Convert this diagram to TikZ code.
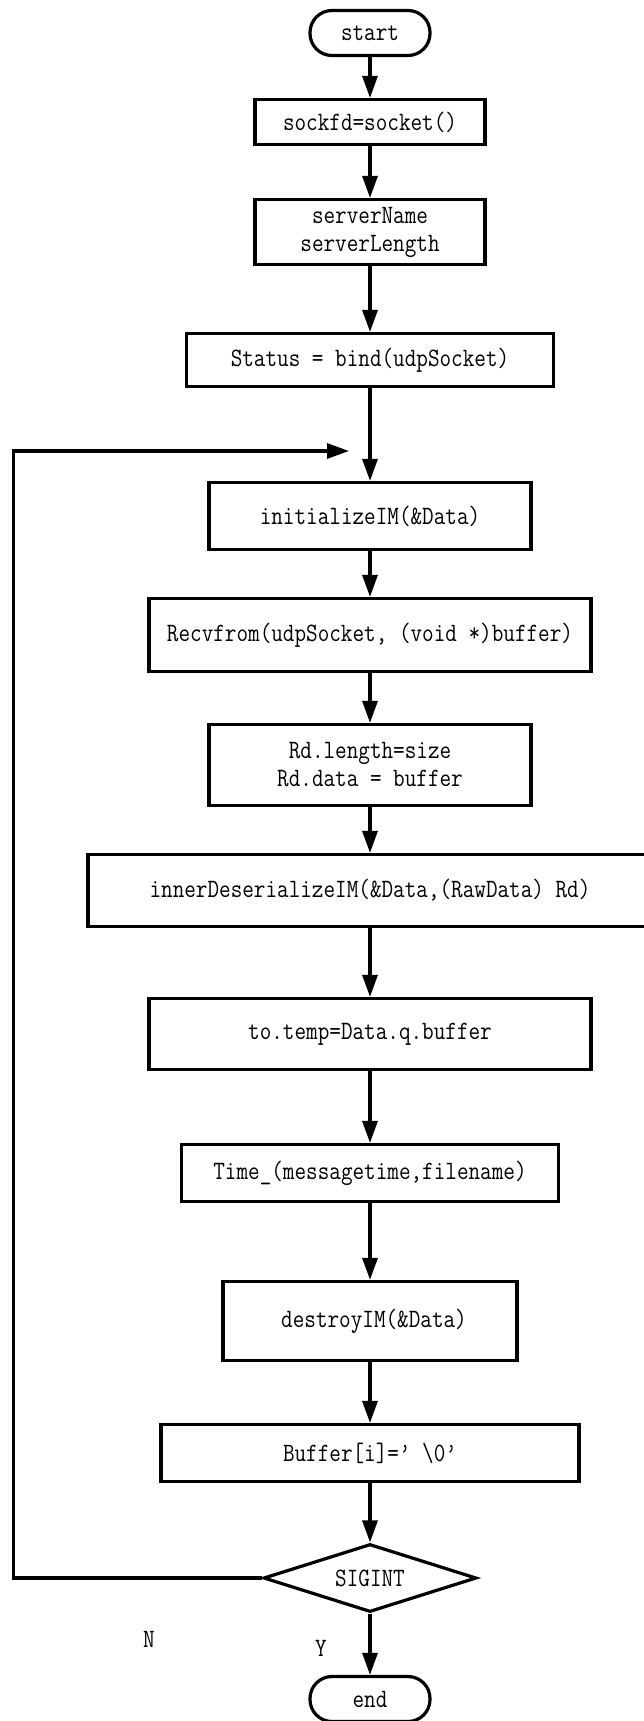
\documentclass[tikz,border=0pt]{standalone}
\usepackage{graphicx}
\usetikzlibrary{arrows.meta,shapes.geometric}
\newcommand{\mt}[1]{\scalebox{0.85}[1]{#1}}
\begin{document}
\begin{tikzpicture}[x=1pt,y=-1pt,
  every node/.style={font=\ttfamily\fontsize{26.5}{28}\selectfont},
  box/.style={draw,line width=3.2pt,rectangle,inner sep=0pt,align=center},
  term/.style={draw,line width=3.2pt,rectangle,rounded corners=22pt,minimum width=120pt,minimum height=45pt,inner sep=0pt},
  link/.style={line width=3.2pt,-{Triangle[length=22pt,width=15pt]}},
]
\useasboundingbox (0,0) rectangle (643,1721);
\node[term] (start) at (370,33) {\mt{start}};
\node[box,minimum width=230pt,minimum height=45pt] (sock) at (370,122) {\mt{sockfd=socket()}};
\node[box,minimum width=230pt,minimum height=65pt] (server) at (370,232) {\mt{serverName}\\\mt{serverLength}};
\node[box,minimum width=367pt,minimum height=53pt] (status) at (370,360) {\mt{Status = bind(udpSocket)}};
\node[box,minimum width=322pt,minimum height=67pt] (init) at (370,516) {\mt{initializeIM(\&Data)}};
\node[box,minimum width=442pt,minimum height=73pt] (recv) at (370,635) {\mt{Recvfrom(udpSocket, (void *)buffer)}};
\node[box,minimum width=322pt,minimum height=81pt] (rd) at (370,765) {\mt{Rd.length=size}\\\mt{Rd.data = buffer}};
\node[box,minimum width=564pt,minimum height=72pt] (inner) at (370,890.5) {\mt{innerDeserializeIM(\&Data,(RawData) Rd)}};
\node[box,minimum width=442pt,minimum height=71pt] (temp) at (370,1034) {\mt{to.temp=Data.q.buffer}};
\node[box,minimum width=377pt,minimum height=57pt] (time) at (370,1173) {\mt{Time\_(messagetime,filename)}};
\node[box,minimum width=294pt,minimum height=79pt] (destroy) at (370,1321) {\hspace*{8pt}\mt{destroyIM(\&Data)}};
\node[box,minimum width=418pt,minimum height=57pt] (buf) at (370,1453) {\mt{Buffer[i]=’ \textbackslash0’}};
\node[draw,diamond,aspect=3,minimum width=213pt,minimum height=68pt,inner sep=0pt,line width=3.2pt] (dec) at (370,1578) {\mt{SIGINT}};
\node[term] (end) at (370,1699) {\mt{end}};
\node (N) at (149,1639) {\mt{N}};
\node (Y) at (321,1648) {\mt{Y}};
\coordinate (loopL) at (13.5,451);
\coordinate (loopTip) at (349,451);
\draw[link] (start) -- (sock);
\draw[link] (sock) -- (server);
\draw[link] (server) -- (status);
\draw[link] (status) -- (init);
\draw[link] (init) -- (recv);
\draw[link] (recv) -- (rd);
\draw[link] (rd) -- (inner);
\draw[link] (inner) -- (temp);
\draw[link] (temp) -- (time);
\draw[link] (time) -- (destroy);
\draw[link] (destroy) -- (buf);
\draw[link] (buf) -- (dec);
\draw[link] (dec) -- (end);
\draw[link] (dec.west) -| (loopL) -- (loopTip);
\end{tikzpicture}
\end{document}
